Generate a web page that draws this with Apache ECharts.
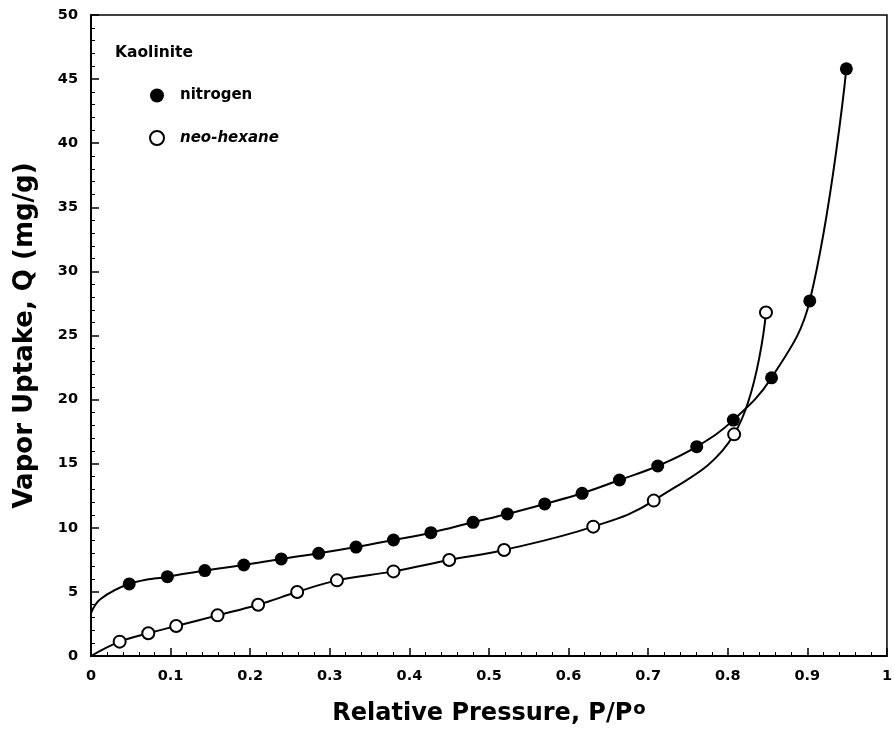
<!DOCTYPE html>
<html>
<head>
<meta charset="utf-8">
<script src="https://cdn.jsdelivr.net/npm/echarts@6/dist/echarts.min.js"></script>
<style>
html,body{margin:0;padding:0;background:#fff;}
#chart{width:895px;height:734px;}
</style>
</head>
<body>
<div id="chart"></div>
<script>
// ---- data ----
var nitrogenP = [0.048, 0.096, 0.143, 0.192, 0.239, 0.286, 0.333, 0.380, 0.427, 0.480, 0.523, 0.570, 0.617, 0.664, 0.712, 0.761, 0.807, 0.855, 0.903, 0.949];
var nitrogenQ = [5.62, 6.19, 6.66, 7.10, 7.57, 8.01, 8.50, 9.05, 9.62, 10.43, 11.08, 11.86, 12.69, 13.73, 14.82, 16.33, 18.4, 21.7, 27.7, 45.8];
var hexaneP = [0.036, 0.072, 0.107, 0.159, 0.210, 0.259, 0.309, 0.380, 0.450, 0.519, 0.631, 0.707, 0.808, 0.848];
var hexaneQ = [1.12, 1.77, 2.34, 3.17, 4.00, 4.99, 5.90, 6.60, 7.49, 8.27, 10.09, 12.12, 17.29, 26.8];
var nitrogenCurveStartP = [0, 0.012];
var nitrogenCurveStartQ = [3.35, 4.45];
var hexaneCurveStartP = [0];
var hexaneCurveStartQ = [0];
var xTickLabels = ['0', '0.1', '0.2', '0.3', '0.4', '0.5', '0.6', '0.7', '0.8', '0.9', '1'];
var yTickLabels = ['0', '5', '10', '15', '20', '25', '30', '35', '40', '45', '50'];
var seriesNames = ['nitrogen', 'neo-hexane'];
var sampleName = 'Kaolinite';

function pairs(xs, ys) { return xs.map(function (x, i) { return [x, ys[i]]; }); }

var FONT = 'DejaVu Sans';
var chart = echarts.init(document.getElementById('chart'), null, {renderer: 'canvas'});

var option = {
  backgroundColor: '#fff',
  animation: false,
  grid: {left: 91, right: 5, top: 15, bottom: 78, show: true, borderColor: '#000', borderWidth: 1.5, backgroundColor: 'transparent'},
  xAxis: {
    type: 'value', min: 0, max: 1, interval: 0.1,
    name: '{m|Relative Pressure, P/P}{s|o}',
    nameLocation: 'middle', nameGap: 44,
    nameTextStyle: {
      rich: {
        m: {fontFamily: FONT, fontWeight: 'bold', fontSize: 24, color: '#000', lineHeight: 28},
        s: {fontFamily: FONT, fontWeight: 'bold', fontSize: 18, color: '#000', verticalAlign: 'top', lineHeight: 20, padding: [0, 0, 0, 1]}
      }
    },
    axisLine: {show: true, onZero: false, lineStyle: {color: '#000', width: 2}},
    axisTick: {show: true, inside: true, length: 8, lineStyle: {color: '#000', width: 1.5}},
    minorTick: {show: true, splitNumber: 5, length: 4, lineStyle: {color: '#000', width: 1}},
    splitLine: {show: false},
    axisLabel: {
      margin: 13, color: '#000', fontFamily: FONT, fontWeight: 'bold', fontSize: 14.5,
      formatter: function (v) { return xTickLabels[Math.round(v * 10)]; }
    }
  },
  yAxis: {
    type: 'value', min: 0, max: 50, interval: 5,
    name: 'Vapor Uptake, Q (mg/g)',
    nameLocation: 'middle', nameRotate: 90, nameGap: 53,
    nameTextStyle: {fontFamily: FONT, fontWeight: 'bold', fontSize: 26, color: '#000'},
    axisLine: {show: true, onZero: false, lineStyle: {color: '#000', width: 2}},
    axisTick: {show: true, inside: true, length: 8, lineStyle: {color: '#000', width: 1.5}},
    minorTick: {show: true, splitNumber: 5, length: 4, lineStyle: {color: '#000', width: 1}},
    splitLine: {show: false},
    axisLabel: {
      margin: 13, color: '#000', fontFamily: FONT, fontWeight: 'bold', fontSize: 14.5,
      formatter: function (v) { return yTickLabels[Math.round(v / 5)]; }
    }
  },
  legend: {
    left: 149, top: 88, padding: 0, orient: 'vertical', itemGap: 27, itemWidth: 14, itemHeight: 14,
    icon: 'circle',
    textStyle: {fontFamily: FONT, fontWeight: 'bold', fontSize: 15, color: '#000', padding: [0, 0, 0, 11]},
    data: [
      {name: seriesNames[0], itemStyle: {color: '#000', borderWidth: 0}},
      {name: seriesNames[1], itemStyle: {color: '#fff', borderColor: '#000', borderWidth: 2}, textStyle: {fontStyle: 'italic'}}
    ]
  },
  graphic: [{
    type: 'text', left: 115, top: 45,
    style: {text: sampleName, font: 'bold 15.5px "DejaVu Sans"', fill: '#000'}
  }],
  series: [
    {
      name: 'nitrogen-curve', type: 'line', silent: true, symbol: 'none', smooth: 0.4,
      lineStyle: {color: '#000', width: 2}, z: 2,
      data: pairs(nitrogenCurveStartP.concat(nitrogenP), nitrogenCurveStartQ.concat(nitrogenQ))
    },
    {
      name: 'neo-hexane-curve', type: 'line', silent: true, symbol: 'none', smooth: 0.4,
      lineStyle: {color: '#000', width: 2}, z: 2,
      data: pairs(hexaneCurveStartP.concat(hexaneP), hexaneCurveStartQ.concat(hexaneQ))
    },
    {
      name: seriesNames[0], type: 'scatter', symbol: 'circle', symbolSize: 13, z: 5,
      itemStyle: {color: '#000', opacity: 1},
      data: pairs(nitrogenP, nitrogenQ)
    },
    {
      name: seriesNames[1], type: 'scatter', symbol: 'circle', symbolSize: 12, z: 5,
      itemStyle: {color: '#fff', borderColor: '#000', borderWidth: 2, opacity: 1},
      data: pairs(hexaneP, hexaneQ)
    }
  ]
};
chart.setOption(option);
</script>
</body>
</html>
